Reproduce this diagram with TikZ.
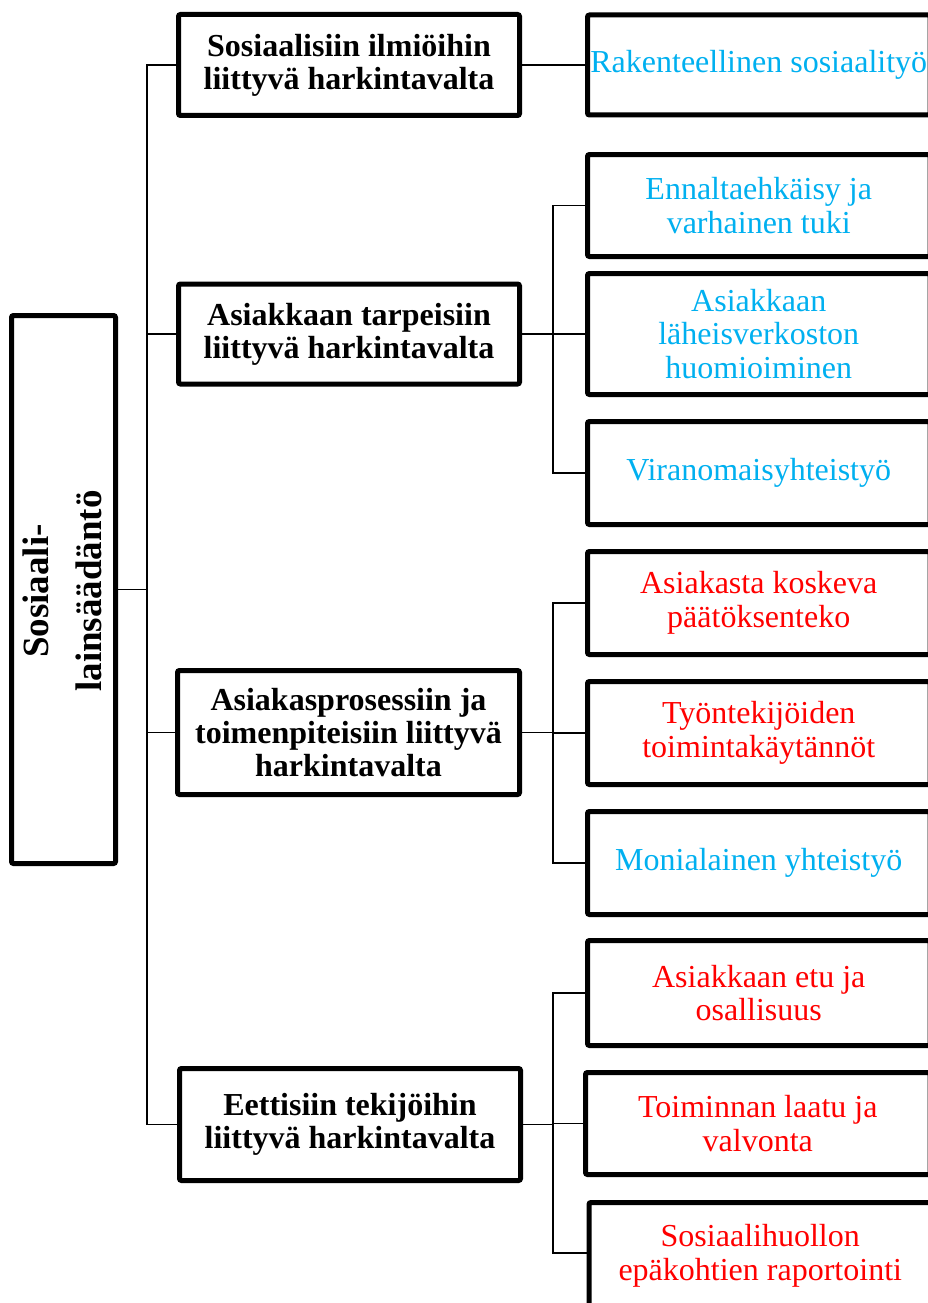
\documentclass[tikz,border=0pt]{standalone}
\usepackage{fontspec}
\setmainfont{Liberation Serif}
\definecolor{skyb}{HTML}{00B0F0}
\definecolor{redt}{HTML}{FF0000}
\begin{document}
\begin{tikzpicture}[x=1pt,y=-1pt,
  box/.style={draw=black, line width=5pt, fill=white, rounded corners=2pt, inner sep=0pt, align=center},
  lvone/.style={box, font=\fontsize{32}{33}\selectfont\bfseries},
  lvtwo/.style={box, font=\fontsize{32}{33.5}\selectfont, minimum width=342.5pt},
  blu/.style={lvtwo, text=skyb},
  rd/.style={lvtwo, text=redt},
  conn/.style={draw=black, line width=1.8pt}]
\useasboundingbox (0,0) rectangle (927,1303);
\fill[white] (0,0) rectangle (927,1303);

% junction points
\coordinate (trunk) at (147,589.5);
\coordinate (j2) at (553,334);
\coordinate (j3) at (553,732.5);
\coordinate (j4) at (553,1124.5);

% root
\node[box, minimum width=104pt, minimum height=548pt] (root) at (63.5,589.5) {};
\node[rotate=90, align=center, font=\fontsize{37}{53}\selectfont\bfseries] (rootlabel) at (62,591) {Sosiaali-\\lainsäädäntö};

% level one
\node[lvone, minimum width=341pt, minimum height=101pt] (B1) at (349,65) {Sosiaalisiin ilmiöihin\\liittyvä harkintavalta};
\node[lvone, minimum width=341pt, minimum height=100pt] (B2) at (349,334) {Asiakkaan tarpeisiin\\liittyvä harkintavalta};
\node[lvone, minimum width=342pt, minimum height=124pt] (B3) at (348.5,732.5) {Asiakasprosessiin ja\\toimenpiteisiin liittyvä\\harkintavalta};
\node[lvone, minimum width=341pt, minimum height=112pt] (B4) at (350,1124.5) {Eettisiin tekijöihin\\liittyvä harkintavalta};

% level two
\node[blu, minimum height=100pt] (C1) at (758.75,65) {Rakenteellinen sosiaalityö};
\node[blu, minimum height=102pt] (C2) at (758.75,205.5) {Ennaltaehkäisy ja\\varhainen tuki};
\node[blu, minimum height=121pt] (C3) at (758.75,334) {Asiakkaan\\läheisverkoston\\huomioiminen};
\node[blu, minimum height=103pt] (C4) at (758.75,473) {Viranomaisyhteistyö};
\node[rd, minimum height=103pt] (C5) at (758.75,603) {Asiakasta koskeva\\päätöksenteko};
\node[rd, minimum height=103pt] (C6) at (758.75,733) {Työntekijöiden\\toimintakäytännöt};
\node[blu, minimum height=103pt] (C7) at (758.75,863) {Monialainen yhteistyö};
\node[rd, minimum height=105pt] (C8) at (758.75,993) {Asiakkaan etu ja\\osallisuus};
\node[rd, minimum height=102pt, minimum width=344.5pt] (C9) at (757.75,1123.5) {Toiminnan laatu ja\\valvonta};
\node[rd, minimum height=107pt] (C10) at (760.25,1256) {Sosiaalihuollon\\epäkohtien raportointi};

% connectors
\draw[conn] (root.east) -- (trunk);
\draw[conn] (trunk) |- (B1.west);
\draw[conn] (trunk) |- (B2.west);
\draw[conn] (trunk) |- (B3.west);
\draw[conn] (trunk) |- (B4.west);
\draw[conn] (B1.east) -- (C1.west);
\draw[conn] (B2.east) -- (j2);
\draw[conn] (j2) |- (C2.west);
\draw[conn] (j2) |- (C3.west);
\draw[conn] (j2) |- (C4.west);
\draw[conn] (B3.east) -- (j3);
\draw[conn] (j3) |- (C5.west);
\draw[conn] (j3) |- (C6.west);
\draw[conn] (j3) |- (C7.west);
\draw[conn] (B4.east) -- (j4);
\draw[conn] (j4) |- (C8.west);
\draw[conn] (j4) |- (C9.west);
\draw[conn] (j4) |- ([yshift=3pt]C10.west);
\end{tikzpicture}
\end{document}
